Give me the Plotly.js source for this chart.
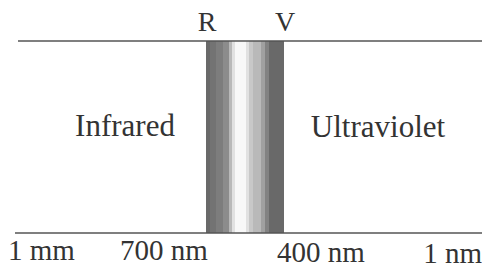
<!DOCTYPE html>
<html>
<head>
<meta charset="utf-8">
<script src="https://cdn.plot.ly/plotly-3.0.1.min.js"></script>
</head>
<body style="margin:0">
<div id="chart"></div>
<script>
// Labels of the diagram
const edgeLabels = ['R', 'V'];
const regionLabels = ['Infrared', 'Ultraviolet'];
const wavelengthLabels = ['1 mm', '700 nm', '400 nm', '1 nm'];
// Grey level (0 = black, 255 = white) across the visible band, left (R) to right (V)
const bandProfile = [
  105,105,105,105,
  115,115,115,115,115,115,
  125,125,125,125,125,125,125,
  140,140,140,140,140,140,
  185,185,185,
  225,225,225,
  248,248,248,248,248,248,248,248,248,248,248,
  225,225,225,
  200,200,200,200,
  185,185,185,185,185,185,185,185,
  160,160,160,160,
  130,130,130,130,
  105,105,105,105,105,105,105,105,105,105,105,105,105,105,105
];

const bandLeft = 206, bandTop = 41, bandBottom = 233;
const xEdges = [];
for (let i = 0; i <= bandProfile.length; i++) xEdges.push(bandLeft + i);

const band = {
  type: 'heatmap',
  x: xEdges,
  y: [bandTop, bandBottom],
  z: [bandProfile],
  zmin: 0, zmax: 255,
  colorscale: [[0, '#000000'], [1, '#ffffff']],
  showscale: false,
  hoverinfo: 'skip'
};

const fam = 'Liberation Serif';
function textTrace(labels, xs, ys, size, pos) {
  return {type: 'scatter', mode: 'text', x: xs, y: ys, text: labels,
          textposition: pos || 'middle center', hoverinfo: 'skip',
          textfont: {family: fam, size: size, color: '#333333'}};
}
const traces = [
  band,
  textTrace(edgeLabels, [207, 285], [24, 24], 28),
  textTrace(regionLabels, [125, 378], [128, 129], 31),
  textTrace(wavelengthLabels.slice(1, 3), [164, 321], [253, 255], 29),
  textTrace([wavelengthLabels[0]], [8], [253], 29, 'middle right'),
  textTrace([wavelengthLabels[3]], [482], [256], 29, 'middle left')
];

const shapes = [
  {type: 'line', xref: 'x', yref: 'y', x0: 18, x1: 482, y0: bandTop, y1: bandTop,
   line: {color: '#555555', width: 1.5}},
  {type: 'line', xref: 'x', yref: 'y', x0: 15, x1: 482, y0: bandBottom, y1: bandBottom,
   line: {color: '#555555', width: 1.5}}
];

Plotly.newPlot('chart', traces, {
  width: 482, height: 271,
  font: {family: fam},
  margin: {l: 0, r: 0, t: 0, b: 0},
  showlegend: false,
  xaxis: {range: [0, 482], visible: false},
  yaxis: {range: [271, 0], visible: false},
  shapes: shapes
}, {displayModeBar: false});
</script>
</body>
</html>
